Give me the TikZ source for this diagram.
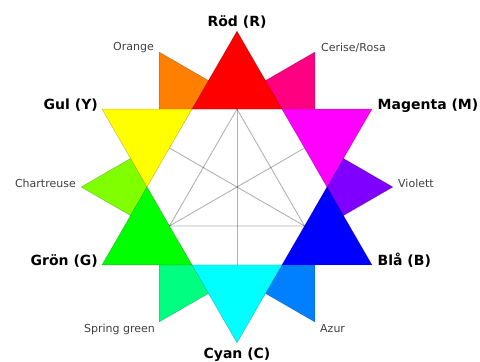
\documentclass[tikz,border=0pt]{standalone}
\usepackage{fontspec}
\setmainfont{DejaVu Sans}
\definecolor{cRed}{HTML}{FF0000}
\definecolor{cOrange}{HTML}{FF8000}
\definecolor{cYellow}{HTML}{FFFF00}
\definecolor{cChart}{HTML}{80FF00}
\definecolor{cGreen}{HTML}{00FF00}
\definecolor{cSpring}{HTML}{00FF80}
\definecolor{cCyan}{HTML}{00FFFF}
\definecolor{cAzure}{HTML}{0080FF}
\definecolor{cBlue}{HTML}{0000FF}
\definecolor{cViolet}{HTML}{8000FF}
\definecolor{cMagenta}{HTML}{FF00FF}
\definecolor{cCerise}{HTML}{FF0080}
\tikzset{
  tri/.style={draw=black, draw opacity=0.25, line width=0.5pt, line join=miter},
  inner/.style={draw=black, draw opacity=0.3, line width=0.9pt},
  prim/.style={inner sep=0pt, font=\bfseries\fontsize{14}{16}\selectfont, text=black},
  sec/.style={inner sep=0pt, font=\fontsize{11}{13}\selectfont, text=black!75}
}
\begin{document}
\begin{tikzpicture}[x=1pt,y=1pt]
\useasboundingbox (0,0) rectangle (480,-362);
\begin{scope}[shift={(237,-187)}]
  % secondary triangles
  \foreach \a/\c in {120/cOrange,180/cChart,240/cSpring,300/cAzure,0/cViolet,60/cCerise}{
    \filldraw[tri, fill=\c] (\a:155.88) -- (\a+30:90) -- (\a-30:90) -- cycle;
  }
  % white hexagon
  \fill[white] (0:90) -- (60:90) -- (120:90) -- (180:90) -- (240:90) -- (300:90) -- cycle;
  % primary triangles
  \foreach \a/\c in {90/cRed,150/cYellow,210/cGreen,270/cCyan,330/cBlue,30/cMagenta}{
    \filldraw[tri, fill=\c] (\a:155.88) -- (\a+30:90) -- (\a-30:90) -- cycle;
  }
  % edge midpoints
  \coordinate (mR) at (90:77.94);
  \coordinate (mY) at (150:77.94);
  \coordinate (mG) at (210:77.94);
  \coordinate (mC) at (270:77.94);
  \coordinate (mB) at (330:77.94);
  \coordinate (mM) at (30:77.94);
  \draw[inner] (mR) -- (mG) -- (mB) -- cycle;
  \draw[inner] (mR) -- (mC);
  \draw[inner] (mG) -- (mM);
  \draw[inner] (mB) -- (mY);
\end{scope}
% labels
\node[prim, anchor=base] (rod) at (237,-26) {Röd (R)};
\node[prim, anchor=base east] (gul) at (98,-109.5) {Gul (Y)};
\node[prim, anchor=base west] (mag) at (377.5,-109.5) {Magenta (M)};
\node[prim, anchor=base east] (gron) at (98,-265.5) {Grön (G)};
\node[prim, anchor=base west] (bla) at (377.5,-265.5) {Blå (B)};
\node[prim, anchor=base] (cyan) at (237,-358.3) {Cyan (C)};
\node[sec, anchor=base east] (orange) at (154,-50) {Orange};
\node[sec, anchor=base west] (cerise) at (321,-51) {Cerise/Rosa};
\node[sec, anchor=base east] (chart) at (76,-187) {Chartreuse};
\node[sec, anchor=base west] (viol) at (398,-187) {Violett};
\node[sec, anchor=base east] (spring) at (155,-332) {Spring green};
\node[sec, anchor=base west] (azur) at (320,-332) {Azur};
\end{tikzpicture}
\end{document}
